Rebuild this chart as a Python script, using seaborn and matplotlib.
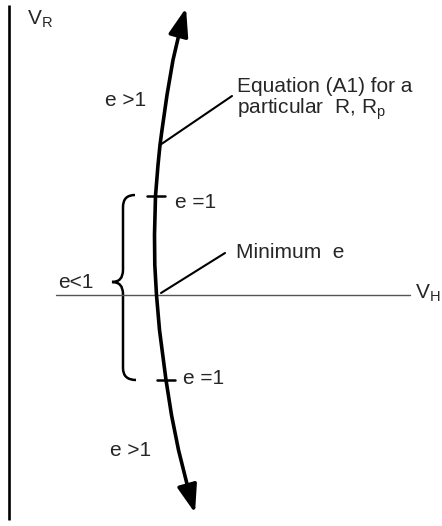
import matplotlib
matplotlib.use("Agg")
import matplotlib.pyplot as plt
import seaborn as sns
import pandas as pd
from matplotlib.path import Path
from matplotlib.patches import PathPatch

# Equation (A1) for a particular R, Rp traced in the (V_H, V_R) plane
curve_vh = [171, 164, 158, 153, 151, 149, 146.5, 145.5, 145.8, 147.5, 150.5, 157, 162.5, 169.5, 179.5]
curve_vr = [265, 235, 200, 165, 150, 130, 99, 60, 30, 0, -35, -85, -120, -155, -195]
tip_top = (177, 287)
tip_bottom = (186, -218)

# Points on the curve where e = 1
e1_vh = [146.5, 157]
e1_vr = [99, -85]

# Brace marking the e < 1 interval
brace_x = 114
brace_top = 100
brace_bottom = -85
brace_point = (103, 13)

# Reference axes
vr_axis_range = (-225, 290)
vh_axis_range = (47, 401)

# Text labels: (text, V_H, V_R)
region_labels = [
    ("e >1", 96, 195),
    ("e =1", 166, 93),
    ("e<1", 49, 13),
    ("e =1", 174, -83),
    ("e >1", 101, -155),
]
eq_label = ["Equation (A1) for a", r"particular  R, R$_\mathregular{p}$"]
min_label = "Minimum  e"

sns.set_theme(style="white")
plt.rcParams["font.family"] = ["Liberation Sans", "DejaVu Sans"]
plt.rcParams["mathtext.fontset"] = "custom"
plt.rcParams["mathtext.rm"] = "Liberation Sans"

fig = plt.figure(figsize=(4.42, 5.26), dpi=100)
ax = fig.add_axes([0, 0, 1, 1])
ax.set_xlim(-9, 433)
ax.set_ylim(-231, 295)
ax.axis("off")

fs = 15

# V_R axis (left) and V_H axis (horizontal)
ax.plot([0, 0], vr_axis_range, color="black", lw=1.9, solid_capstyle="butt")
ax.plot(vh_axis_range, [0, 0], color="#555555", lw=1.0)

# main curve
df = pd.DataFrame({"V_H": curve_vh, "V_R": curve_vr})
sns.lineplot(data=df, x="V_H", y="V_R", sort=False, color="black", lw=2.6, ax=ax,
             estimator=None)

arrow_kw = dict(arrowstyle="-|>,head_length=0.85,head_width=0.3", color="black",
                lw=2.6, shrinkA=0, shrinkB=0, mutation_scale=20)
ax.annotate("", xy=tip_top, xytext=(curve_vh[0], curve_vr[0]), arrowprops=arrow_kw)
ax.annotate("", xy=tip_bottom, xytext=(curve_vh[-1], curve_vr[-1]), arrowprops=arrow_kw)

# e = 1 tick marks across the curve
for x, y in zip(e1_vh, e1_vr):
    ax.plot([x - 9, x + 9], [y, y], color="black", lw=1.8)

# brace
bx, (px, py) = brace_x, brace_point
verts = [
    (bx + 12, brace_top), (bx, brace_top), (bx, brace_top - 12),
    (bx, py + 12),
    (bx, py), (px, py),
    (bx, py), (bx, py - 12),
    (bx, brace_bottom + 12),
    (bx, brace_bottom), (bx + 13, brace_bottom),
]
codes = [Path.MOVETO, Path.CURVE3, Path.CURVE3, Path.LINETO,
         Path.CURVE3, Path.CURVE3, Path.CURVE3, Path.CURVE3,
         Path.LINETO, Path.CURVE3, Path.CURVE3]
ax.add_patch(PathPatch(Path(verts, codes), fill=False, lw=1.8, color="black"))

# leader lines
ax.plot([curve_vh[4], 223], [curve_vr[4], 199], color="black", lw=1.5)
ax.plot([152, 216], [2, 42], color="black", lw=1.5)

# labels
for t, x, y in region_labels:
    ax.text(x, y, t, fontsize=fs, va="center", ha="left")
ax.text(228, 208, eq_label[0], fontsize=fs, va="center", ha="left")
ax.text(228, 186, eq_label[1], fontsize=fs, va="center", ha="left")
ax.text(227, 43, min_label, fontsize=fs, va="center", ha="left")
ax.text(18, 276, r"V$_\mathregular{R}$", fontsize=fs, va="center", ha="left")
ax.text(406, 2, r"V$_\mathregular{H}$", fontsize=fs, va="center", ha="left")

fig.savefig("out.png", dpi=100, facecolor="white")
